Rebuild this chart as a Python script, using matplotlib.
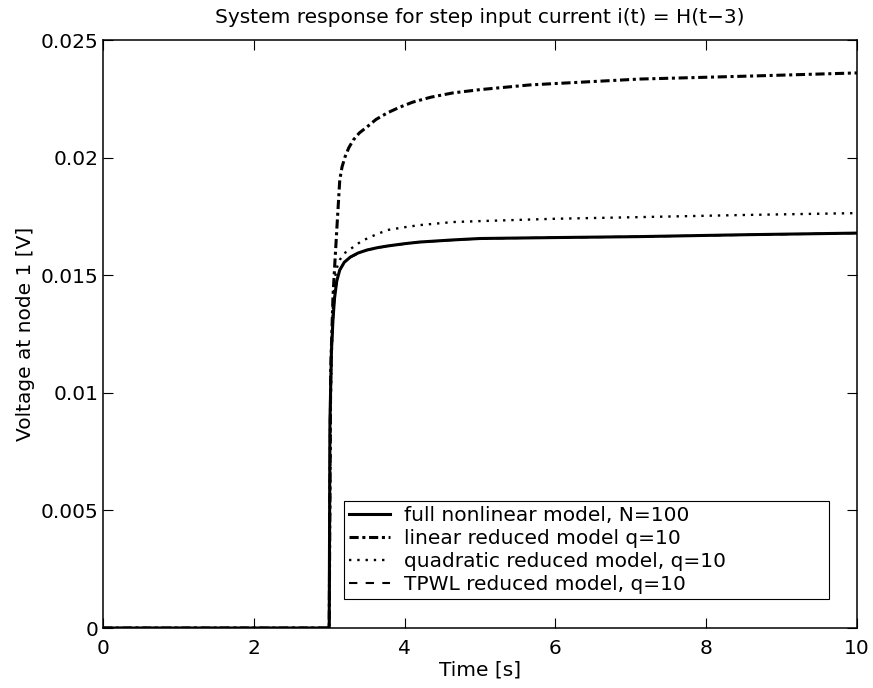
import numpy as np
import matplotlib
matplotlib.use("Agg")
import matplotlib.pyplot as plt

# values
t_full = [0, 2.99, 3.0, 3.01, 3.03, 3.05, 3.07, 3.1, 3.14, 3.2, 3.28, 3.38, 3.5, 3.64, 3.77,
          4.0, 4.2, 4.64, 5.0, 6.0, 7.1, 8.5, 10]
v_full = [0, 0, 0, 0.0088, 0.0118, 0.0131, 0.0140, 0.01475, 0.01522, 0.01555, 0.01577, 0.01594,
          0.01607, 0.01617, 0.01624, 0.01634, 0.01641, 0.0165, 0.01656, 0.0166, 0.01664,
          0.01672, 0.01679]

t_lin = [0, 2.99, 3.0, 3.02, 3.05, 3.08, 3.1, 3.14, 3.17, 3.21, 3.26, 3.32, 3.4, 3.5, 3.62,
         3.77, 3.94, 4.11, 4.35, 4.64, 5.0, 5.66, 6.3, 7.12, 8.62, 10]
v_lin = [0, 0, 0, 0.011, 0.0141, 0.0158, 0.0169, 0.01905, 0.0196, 0.02003, 0.02042, 0.02075,
         0.02105, 0.0213, 0.02162, 0.0219, 0.02215, 0.02236, 0.02257, 0.02275, 0.02289,
         0.02309, 0.0232, 0.02334, 0.02347, 0.0236]

t_quad = [0, 2.99, 3.0, 3.02, 3.05, 3.08, 3.11, 3.14, 3.2, 3.32, 3.42, 3.54, 3.77, 4.0, 4.2,
          4.64, 5.0, 6.0, 7.12, 8.5, 10]
v_quad = [0, 0, 0, 0.0095, 0.0138, 0.01495, 0.01540, 0.01565, 0.01593, 0.0162, 0.01643,
          0.01662, 0.01692, 0.01704, 0.01713, 0.01726, 0.0173, 0.0174, 0.01747, 0.01756, 0.01764]

t_tpwl = [0, 2.99, 3.0, 3.01, 3.03, 3.05, 3.07, 3.1, 3.14, 3.2, 3.28, 3.5, 3.77, 4.2, 5.0,
          7.1, 10]
v_tpwl = [0, 0, 0, 0.0088, 0.0118, 0.0131, 0.0140, 0.01475, 0.01522, 0.01555, 0.01577,
          0.01607, 0.01624, 0.01641, 0.01656, 0.01664, 0.01679]

labels = ["full nonlinear model, N=100", "linear reduced model q=10",
          "quadratic reduced model, q=10", "TPWL reduced model, q=10"]

plt.rcParams['font.family'] = ['DejaVu Sans']
plt.rcParams['font.size'] = 14.5

fig = plt.figure(figsize=(8.73, 6.88), dpi=100)
ax = fig.add_axes([103/873, 60/688, 754/873, 588/688])

ax.plot(t_full, v_full, color='black', lw=2.2, ls='-', label=labels[0])
ax.plot(t_lin, v_lin, color='black', lw=2.2, ls=(0, (3, 1.2, 1, 1.2)), label=labels[1])
ax.plot(t_quad, v_quad, color='black', lw=1.7, ls=(0, (1, 2.5)), label=labels[2])
ax.plot(t_tpwl, v_tpwl, color='black', lw=1.5, ls=(0, (4, 4)), label=labels[3])

ax.set_xlim(0, 10)
ax.set_ylim(0, 0.025)
ax.set_xticks(np.arange(0, 11, 2))
ax.set_yticks([0, 0.005, 0.01, 0.015, 0.02, 0.025])
ax.set_yticklabels(["0", "0.005", "0.01", "0.015", "0.02", "0.025"])
ax.tick_params(direction='in', length=7, width=0.8, top=True, right=True, color='black')
ax.tick_params(axis='x', pad=8)
ax.tick_params(axis='y', pad=3.5)
for sp in ax.spines.values():
    sp.set_linewidth(1.1)

ax.set_title("System response for step input current i(t) = H(t\u22123)", pad=12, fontsize=14.5)
ax.set_xlabel("Time [s]", labelpad=2)
ax.set_ylabel("Voltage at node 1 [V]")
ax.yaxis.set_label_coords(-0.09, 0.5)

leg = ax.legend(loc='lower left', bbox_to_anchor=(0.320, 0.049, 0.643, 0.191), mode='expand',
                fancybox=False, framealpha=1, edgecolor='black', handlelength=2.0,
                handletextpad=0.7, labelspacing=0.2, borderpad=0.25, borderaxespad=0)
leg.get_frame().set_linewidth(0.8)

fig.savefig("out.png", dpi=100)
